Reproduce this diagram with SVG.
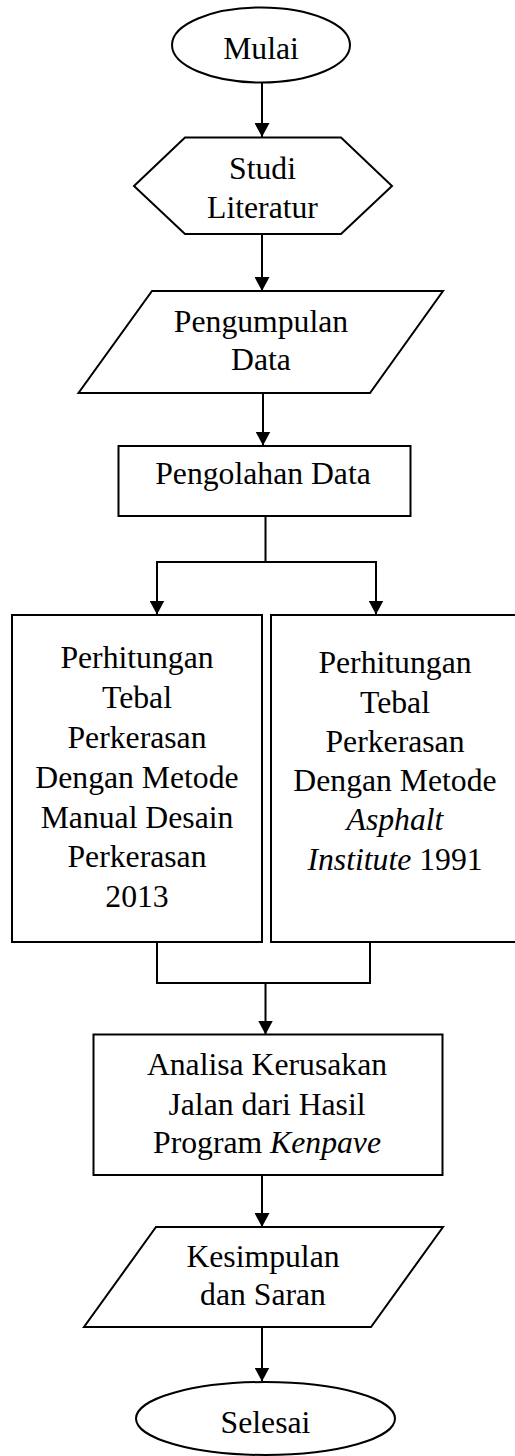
<svg xmlns="http://www.w3.org/2000/svg" width="515" height="1456" viewBox="0 0 515 1456">
<style>
.s{fill:#fff;stroke:#000;stroke-width:2}
.c{fill:none;stroke:#000;stroke-width:2}
text{font-family:"Liberation Serif","Times New Roman",serif;font-size:31.7px;fill:#000;text-anchor:middle}
.i{font-style:italic}
</style>
<defs>
<marker id="ah" viewBox="0 0 14 15" refX="14" refY="7.5" markerWidth="14" markerHeight="15" orient="auto" markerUnits="userSpaceOnUse">
<path d="M0,0 L14,7.5 L0,15 z" fill="#000"/>
</marker>
</defs>
<rect width="515" height="1456" fill="#fff"/>
<g id="connectors">
<path class="c" d="M262,83 V137" marker-end="url(#ah)"/>
<path class="c" d="M262,234 V291" marker-end="url(#ah)"/>
<path class="c" d="M263,393 V445.5" marker-end="url(#ah)"/>
<path class="c" d="M265.5,516 V562 H157 V614.5" marker-end="url(#ah)"/>
<path class="c" d="M265.5,562 H376 V614.5" marker-end="url(#ah)"/>
<path class="c" d="M157,942 V983 H370 V942"/>
<path class="c" d="M265.5,983 V1034.5" marker-end="url(#ah)"/>
<path class="c" d="M262,1175 V1227" marker-end="url(#ah)"/>
<path class="c" d="M262,1327 V1381.5" marker-end="url(#ah)"/>
</g>
<g id="mulai">
<ellipse class="s" cx="261" cy="45" rx="89" ry="37.5"/>
<text x="261" y="59">Mulai</text>
</g>
<g id="studi">
<polygon class="s" points="134,186 185,137.5 341,137.5 392,186 341,234 185,234"/>
<text x="262.5" y="179">Studi</text>
<text x="262.5" y="218">Literatur</text>
</g>
<g id="pengumpulan">
<polygon class="s" points="152,291 443,291 370,393 78.5,393"/>
<text x="261" y="332">Pengumpulan</text>
<text x="261" y="370">Data</text>
</g>
<g id="pengolahan">
<rect class="s" x="118.5" y="446" width="292" height="70"/>
<text x="263" y="484">Pengolahan Data</text>
</g>
<g id="manual">
<rect class="s" x="12" y="615" width="250" height="327"/>
<text x="137" y="668">Perhitungan</text>
<text x="137" y="707.5">Tebal</text>
<text x="137" y="748">Perkerasan</text>
<text x="137" y="788">Dengan Metode</text>
<text x="137" y="827.5">Manual Desain</text>
<text x="137" y="867">Perkerasan</text>
<text x="137" y="907">2013</text>
</g>
<g id="asphalt">
<rect class="s" x="271" y="615" width="250" height="327"/>
<text x="395" y="673">Perhitungan</text>
<text x="395" y="712.5">Tebal</text>
<text x="395" y="752">Perkerasan</text>
<text x="395" y="791">Dengan Metode</text>
<text x="395" y="830" class="i">Asphalt</text>
<text x="395" y="870"><tspan class="i">Institute</tspan> 1991</text>
</g>
<g id="analisa">
<rect class="s" x="93.5" y="1034.5" width="349" height="140.5"/>
<text x="267" y="1075">Analisa Kerusakan</text>
<text x="267" y="1115">Jalan dari Hasil</text>
<text x="267" y="1153">Program <tspan class="i">Kenpave</tspan></text>
</g>
<g id="kesimpulan">
<polygon class="s" points="156,1227 443,1227 371,1327 84,1327"/>
<text x="263" y="1267">Kesimpulan</text>
<text x="263" y="1305">dan Saran</text>
</g>
<g id="selesai">
<ellipse class="s" cx="265.5" cy="1418.5" rx="129.5" ry="36.5"/>
<text x="265.5" y="1433">Selesai</text>
</g>
</svg>
